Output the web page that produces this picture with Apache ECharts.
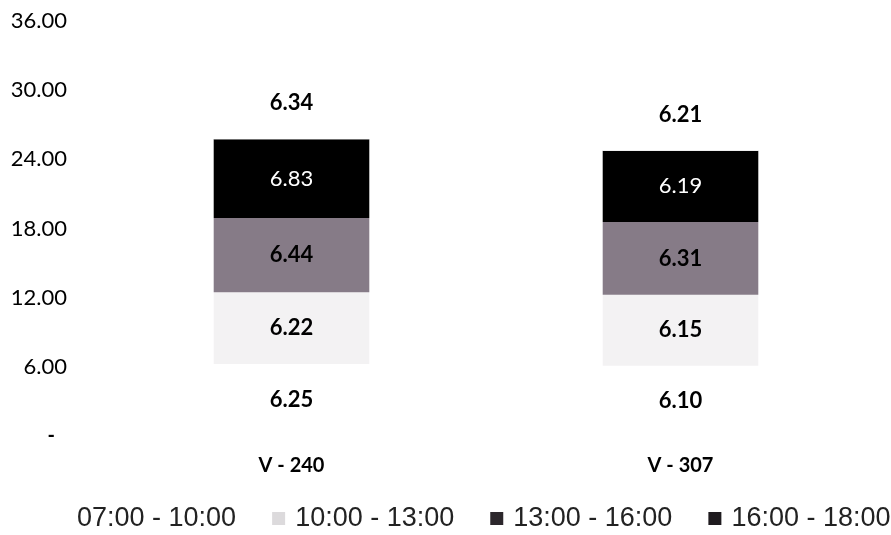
<!DOCTYPE html>
<html>
<head>
<meta charset="utf-8">
<script src="https://cdn.jsdelivr.net/npm/echarts@6/dist/echarts.min.js"></script>
<style>
  html, body { margin: 0; padding: 0; background: #ffffff; }
  #chart { width: 891px; height: 535px; }
</style>
</head>
<body>
<div id="chart"></div>
<script>
// Vehicles on the horizontal axis
const categories = ['V - 240', 'V - 307'];

// Stacked values per time slot, bottom to top
const slot0710 = [6.25, 6.10];
const slot1013 = [6.22, 6.15];
const slot1316 = [6.44, 6.31];
const slot1618 = [6.83, 6.19];
const slotRest = [6.34, 6.21];

// Value axis ticks
const yMin = 0;
const yMax = 36;
const yStep = 6;

const legendNames = ['07:00 - 10:00', '10:00 - 13:00', '13:00 - 16:00', '16:00 - 18:00'];

const fmt = v => v.toFixed(2);

function layer(name, data, color, labelColor, labelWeight) {
  return {
    name: name,
    type: 'bar',
    stack: 'total',
    barWidth: '40%',
    data: data,
    itemStyle: { color: color },
    label: {
      show: true,
      position: 'inside',
      formatter: p => fmt(p.value),
      fontFamily: 'Lato',
      fontSize: 22,
      fontWeight: labelWeight,
      color: labelColor
    },
    emphasis: { disabled: true }
  };
}

const chart = echarts.init(document.getElementById('chart'), null, { renderer: 'canvas' });

chart.setOption({
  animation: false,
  backgroundColor: '#ffffff',
  grid: { left: 97, right: 16, top: 21, bottom: 99, containLabel: false },
  legend: {
    left: 54,
    right: 0,
    top: 505,
    padding: 0,
    itemWidth: 13,
    itemHeight: 13,
    itemGap: 36,
    icon: 'rect',
    selectedMode: false,
    textStyle: {
      fontFamily: 'Liberation Sans',
      fontSize: 27,
      color: '#222222',
      padding: [0, 0, 0, 5]
    },
    data: [
      { name: legendNames[0], itemStyle: { color: '#ffffff' } },
      { name: legendNames[1], itemStyle: { color: '#dcdadc' } },
      { name: legendNames[2], itemStyle: { color: '#2c272c' } },
      { name: legendNames[3], itemStyle: { color: '#1f1b1f' } }
    ]
  },
  xAxis: {
    type: 'category',
    data: categories,
    axisLine: { show: false },
    axisTick: { show: false },
    axisLabel: {
      margin: 20,
      fontFamily: 'Lato',
      fontSize: 20,
      fontWeight: 'bold',
      color: '#000000'
    }
  },
  yAxis: {
    type: 'value',
    min: yMin,
    max: yMax,
    interval: yStep,
    axisLine: { show: false },
    axisTick: { show: false },
    splitLine: { show: false },
    axisLabel: {
      margin: 30,
      fontFamily: 'Lato',
      fontSize: 22,
      color: '#000000',
      formatter: v => (v === 0 ? '{z|-}' : fmt(v)),
      rich: {
        z: { fontSize: 20, fontWeight: 'bold', padding: [0, 12, 0, 0], color: '#000000' }
      }
    }
  },
  series: [
    layer(legendNames[0], slot0710, '#ffffff', '#000000', 'bold'),
    layer(legendNames[1], slot1013, '#f3f2f3', '#000000', 'bold'),
    layer(legendNames[2], slot1316, '#867b87', '#000000', 'bold'),
    layer(legendNames[3], slot1618, '#000000', '#ffffff', 'normal'),
    layer('18:00 - 19:00', slotRest, '#ffffff', '#000000', 'bold')
  ]
});
</script>
</body>
</html>
